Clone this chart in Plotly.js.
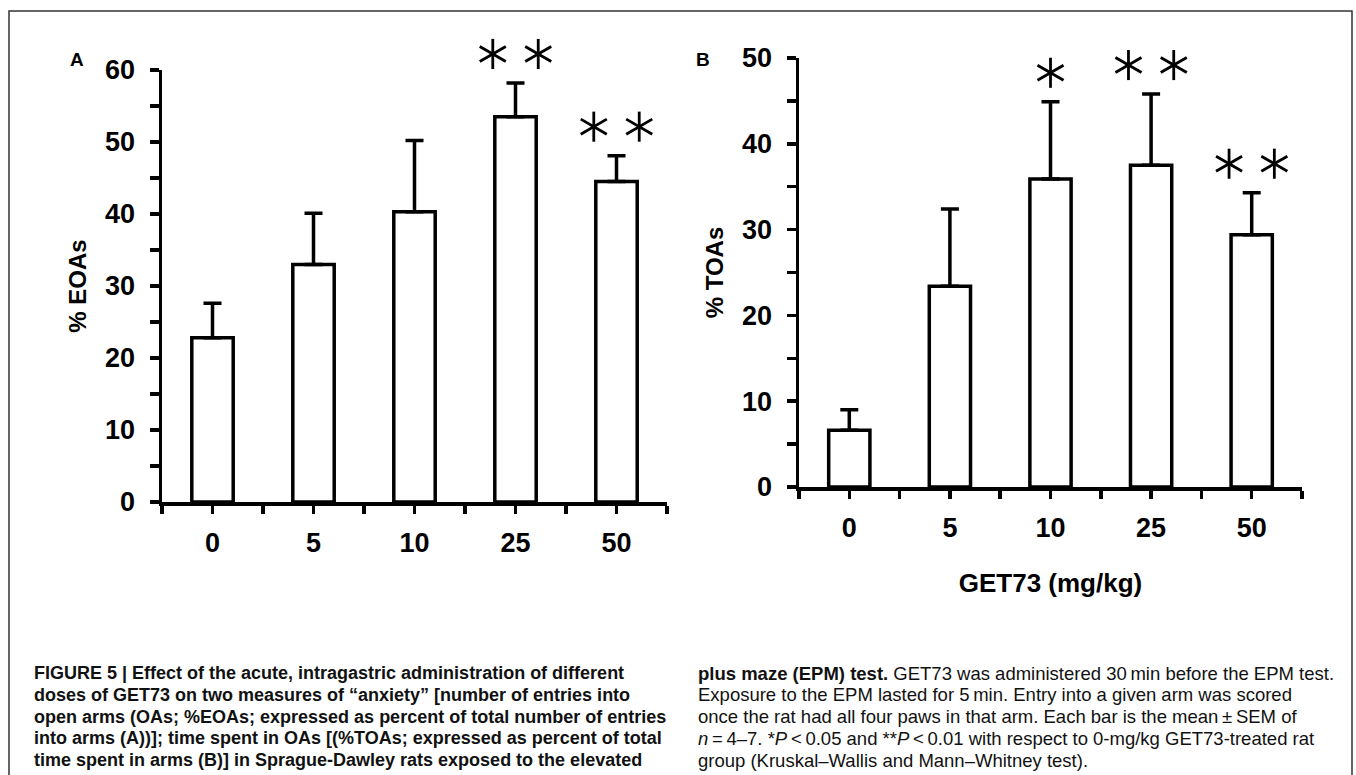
<!DOCTYPE html>
<html>
<head>
<meta charset="utf-8">
<script src="https://cdn.plot.ly/plotly-3.0.1.min.js"></script>
<style>html,body{margin:0;padding:0;background:#fff;}#chart{width:1356px;height:775px;}</style>
</head>
<body>
<div id="chart"></div>
<script>
// ---- data ----
const doseLabels = ['0', '5', '10', '25', '50'];
const eoaMean = [22.8, 33.0, 40.3, 53.5, 44.5];
const eoaSem  = [4.8, 7.1, 9.9, 4.7, 3.6];
const eoaSig  = ['', '', '', '**', '**'];
const toaMean = [6.6, 23.4, 35.9, 37.5, 29.4];
const toaSem  = [2.4, 9.0, 9.0, 8.3, 4.9];
const toaSig  = ['', '', '*', '**', '**'];
const captionLeft = [
  'FIGURE 5 | Effect of the acute, intragastric administration of different',
  'doses of GET73 on two measures of \u201canxiety\u201d [number of entries into',
  'open arms (OAs; %EOAs; expressed as percent of total number of entries',
  'into arms (A))]; time spent in OAs [(%TOAs; expressed as percent of total',
  'time spent in arms (B)] in Sprague-Dawley rats exposed to the elevated'
];
const captionRight = [
  '<b>plus maze (EPM) test.</b> GET73 was administered 30\u2009min before the EPM test.',
  'Exposure to the EPM lasted for 5\u2009min. Entry into a given arm was scored',
  'once the rat had all four paws in that arm. Each bar is the mean\u2009\u00b1\u2009SEM of',
  '<i>n</i>\u2009=\u20094\u20137. *<i>P</i>\u2009&lt;\u20090.05 and **<i>P</i>\u2009&lt;\u20090.01 with respect to 0-mg/kg GET73-treated rat',
  'group (Kruskal\u2013Wallis and Mann\u2013Whitney test).'
];

// ---- layout helpers ----
const W = 1356, H = 775;
const FONT = 'Liberation Sans, Arial, Helvetica, sans-serif';
const px = v => v / W;
const py = v => 1 - v / H;
const idx = doseLabels.map((_, i) => i);

// plot areas in page pixels: left, right, bottom (value 0), top (max value)
const boxA = {l: 162, r: 667, b: 502, t: 70, range: [0, 60]};
const boxB = {l: 799, r: 1302, b: 487, t: 58, range: [0, 50]};

function barTrace(means, sems, xa, ya) {
  return {
    type: 'bar', x: idx, y: means, xaxis: xa, yaxis: ya, width: 0.41,
    marker: {color: 'white', line: {color: 'black', width: 3.5}},
    error_y: {type: 'data', symmetric: false, array: sems, arrayminus: sems.map(() => 0),
              width: 9, thickness: 3.5, color: 'black'},
    hoverinfo: 'skip'
  };
}

function starTraces(means, sems, sig, xa, ya, box) {
  const unitPx = (box.b - box.t) / (box.range[1] - box.range[0]);
  const gap = 29 / unitPx;
  const xs = [], ys = [];
  sig.forEach((s, i) => {
    const n = s.length;
    for (let k = 0; k < n; k++) {
      xs.push(i + (k - (n - 1) / 2) * 0.45);
      ys.push(means[i] + sems[i] + gap);
    }
  });
  return [90, 30, -30].map(a => ({
    type: 'scatter', mode: 'markers', x: xs, y: ys, xaxis: xa, yaxis: ya,
    cliponaxis: false, hoverinfo: 'skip',
    marker: {symbol: 'line-ew', angle: a, size: 21.5, color: 'black', line: {width: 2.8, color: 'black'}}
  }));
}

const tickFont = {family: FONT, size: 27, color: 'black', weight: 'bold'};
const titleFont = {family: FONT, size: 24, color: 'black', weight: 'bold'};

function xAxis(box, anchor, title) {
  const ax = {
    domain: [px(box.l), px(box.r)], anchor: anchor, range: [-0.5, 4.5], fixedrange: true,
    tickmode: 'array', tickvals: idx, ticktext: doseLabels,
    ticks: 'outside', ticklen: 8, tickwidth: 3.5, tickcolor: 'black',
    minor: {tickmode: 'array', tickvals: [-0.5, 0.5, 1.5, 2.5, 3.5, 4.5], ticks: 'outside', ticklen: 8, tickwidth: 3.5, tickcolor: 'black'},
    showline: true, linewidth: 3.5, linecolor: 'black', showgrid: false, zeroline: false,
    tickfont: tickFont, ticklabelstandoff: 6
  };
  if (title) ax.title = {text: title, font: {family: FONT, size: 26, color: 'black', weight: 'bold'}, standoff: 33};
  return ax;
}
function yAxis(box, anchor, title) {
  return {
    domain: [py(box.b), py(box.t)], anchor: anchor, range: box.range, fixedrange: true,
    dtick: 10, tick0: 0, ticks: 'outside', ticklen: 9, tickwidth: 3.5, tickcolor: 'black',
    minor: {dtick: 5, ticks: 'outside', ticklen: 9, tickwidth: 3.5, tickcolor: 'black'},
    showline: true, linewidth: 3.5, linecolor: 'black', showgrid: false, zeroline: false,
    tickfont: tickFont, ticklabelstandoff: 9,
    title: {text: title, font: titleFont, standoff: 12}
  };
}
// hidden axis with the same pixel scale, extended upward, so significance marks above the axis top still show
function starAxis(box, anchor) {
  const unitPx = (box.b - box.t) / (box.range[1] - box.range[0]);
  const topPx = 20;
  const maxVal = box.range[0] + (box.b - topPx) / unitPx;
  return {domain: [py(box.b), py(topPx)], anchor: anchor, range: [box.range[0], maxVal],
          visible: false, fixedrange: true, showgrid: false, zeroline: false};
}

const data = [
  barTrace(eoaMean, eoaSem, 'x', 'y'),
  ...starTraces(eoaMean, eoaSem, eoaSig, 'x', 'y3', boxA),
  barTrace(toaMean, toaSem, 'x2', 'y2'),
  ...starTraces(toaMean, toaSem, toaSig, 'x2', 'y4', boxB)
];

const annotations = [
  {text: '<b>A</b>', x: px(77), y: py(59), xref: 'paper', yref: 'paper', xanchor: 'center', yanchor: 'middle', showarrow: false, font: {family: FONT, size: 19, color: 'black'}},
  {text: '<b>B</b>', x: px(703), y: py(59), xref: 'paper', yref: 'paper', xanchor: 'center', yanchor: 'middle', showarrow: false, font: {family: FONT, size: 19, color: 'black'}}
];
captionLeft.forEach((t, i) => annotations.push({
  text: '<b>' + t + '</b>', x: px(32), y: py(673 + i * 21.75), xref: 'paper', yref: 'paper',
  xanchor: 'left', yanchor: 'middle', showarrow: false, font: {family: FONT, size: 18, color: '#111'}
}));
captionRight.forEach((t, i) => annotations.push({
  text: t, x: px(696), y: py(673 + i * 21.75), xref: 'paper', yref: 'paper',
  xanchor: 'left', yanchor: 'middle', showarrow: false, font: {family: FONT, size: 18.5, color: '#111'}
}));

const layout = {
  width: W, height: H, margin: {l: 0, r: 0, t: 0, b: 0},
  paper_bgcolor: 'white', plot_bgcolor: 'rgba(0,0,0,0)', showlegend: false,
  xaxis: xAxis(boxA, 'y', null),
  yaxis: yAxis(boxA, 'x', '% EOAs'),
  xaxis2: xAxis(boxB, 'y2', 'GET73 (mg/kg)'),
  yaxis2: yAxis(boxB, 'x2', '% TOAs'),
  yaxis3: starAxis(boxA, 'x'),
  yaxis4: starAxis(boxB, 'x2'),
  annotations: annotations,
  shapes: [{type: 'rect', xref: 'paper', yref: 'paper', x0: px(9), x1: px(1352), y0: -0.05, y1: py(11),
            line: {color: '#333', width: 1.5}, fillcolor: 'rgba(0,0,0,0)'}]
};

Plotly.newPlot('chart', data, layout, {displayModeBar: false, staticPlot: true});
</script>
</body>
</html>
